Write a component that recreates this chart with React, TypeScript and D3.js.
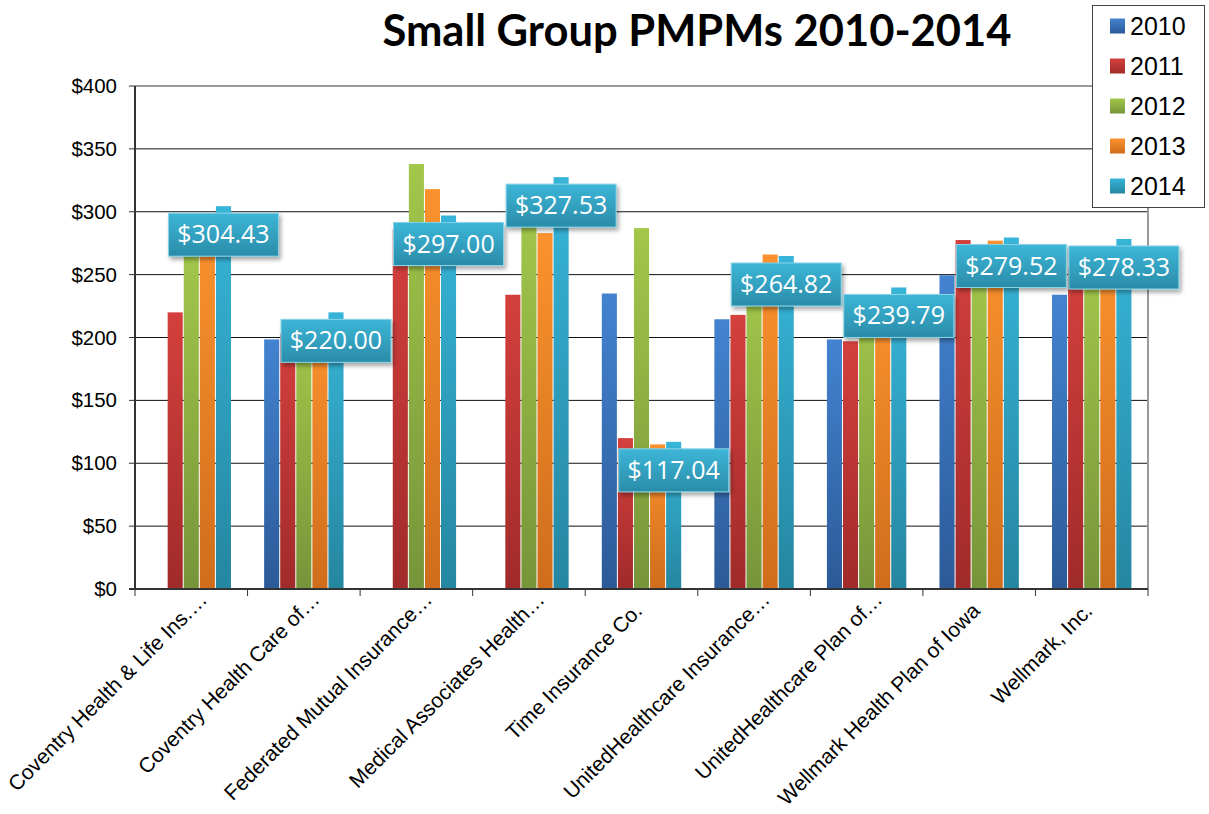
import React, { useRef, useEffect } from 'react';
import * as d3 from 'd3';

const categories = [
  'Coventry Health & Life Ins.…',
  'Coventry Health Care of…',
  'Federated Mutual Insurance…',
  'Medical Associates Health…',
  'Time Insurance Co.',
  'UnitedHealthcare Insurance…',
  'UnitedHealthcare Plan of…',
  'Wellmark Health Plan of Iowa',
  'Wellmark, Inc.',
];
const years = ['2010', '2011', '2012', '2013', '2014'];
const values2010 = [0, 198.5, 0, 0, 235, 214.5, 198.5, 249.5, 234];
const values2011 = [220, 203, 286, 234, 120, 218, 197, 277.5, 255];
const values2012 = [270, 205, 338, 300, 287, 245, 232, 265, 265];
const values2013 = [285, 210, 318, 283, 115, 266, 234, 277, 270];
const values2014 = [304.43, 220.0, 297.0, 327.53, 117.04, 264.82, 239.79, 279.52, 278.33];
const yTicks = [0, 50, 100, 150, 200, 250, 300, 350, 400];

const seriesValues = [values2010, values2011, values2012, values2013, values2014];
// top / bottom of each bar gradient
const barColors = [
  ['#4383D0', '#2C5A98'],
  ['#D4403D', '#A02B2A'],
  ['#A2C74A', '#76953A'],
  ['#FB922E', '#CF6D1C'],
  ['#37B5D8', '#2586A0'],
];

const W = 1209;
const H = 814;
const plot = { left: 135, right: 1148, top: 86, bottom: 589 };

const App = () => {
  const svgRef = useRef<SVGSVGElement>(null);

  useEffect(() => {
    const svg = d3.select(svgRef.current);
    svg.selectAll('*').remove();

    const x0 = d3.scaleBand().domain(categories).range([plot.left, plot.right]);
    const x1 = d3.scaleBand().domain(years).range([0, x0.bandwidth()]).paddingOuter(1);
    const y = d3.scaleLinear().domain([0, 400]).range([plot.bottom, plot.top]);

    const defs = svg.append('defs');
    barColors.forEach((c, i) => {
      const g = defs
        .append('linearGradient')
        .attr('id', `grad${i}`)
        .attr('x1', 0)
        .attr('y1', 0)
        .attr('x2', 0)
        .attr('y2', 1);
      g.append('stop').attr('offset', 0).attr('stop-color', c[0]);
      g.append('stop').attr('offset', 1).attr('stop-color', c[1]);
    });
    const lg = defs
      .append('linearGradient')
      .attr('id', 'labelGrad')
      .attr('x1', 0)
      .attr('y1', 0)
      .attr('x2', 0)
      .attr('y2', 1);
    lg.append('stop').attr('offset', 0).attr('stop-color', '#3DB6D8');
    lg.append('stop').attr('offset', 1).attr('stop-color', '#2A8CA8');
    defs
      .append('filter')
      .attr('id', 'shadow')
      .attr('x', -0.2)
      .attr('y', -0.2)
      .attr('width', 1.4)
      .attr('height', 1.5)
      .append('feDropShadow')
      .attr('dx', 2)
      .attr('dy', 3)
      .attr('stdDeviation', 2)
      .attr('flood-color', '#000')
      .attr('flood-opacity', 0.35);

    // title
    svg
      .append('text')
      .attr('x', 697)
      .attr('y', 46)
      .attr('text-anchor', 'middle')
      .style('font-family', 'Lato, "Open Sans", sans-serif')
      .style('font-weight', 700)
      .style('font-size', '43.5px')
      .text('Small Group PMPMs 2010-2014');

    // gridlines
    svg
      .append('g')
      .selectAll('line')
      .data(yTicks.filter(t => t > 0 && t < 400))
      .join('line')
      .attr('x1', plot.left)
      .attr('x2', plot.right)
      .attr('y1', d => y(d))
      .attr('y2', d => y(d))
      .attr('stroke', '#111')
      .attr('stroke-width', 1);

    // plot frame (top and right)
    svg
      .append('path')
      .attr('d', `M${plot.left},${y(400)}H${plot.right}V${plot.bottom}`)
      .attr('fill', 'none')
      .attr('stroke', '#999')
      .attr('stroke-width', 2);

    // y axis
    const yAxis = svg.append('g');
    yAxis
      .selectAll('line')
      .data(yTicks)
      .join('line')
      .attr('x1', plot.left - 6)
      .attr('x2', plot.left)
      .attr('y1', d => y(d))
      .attr('y2', d => y(d))
      .attr('stroke', '#333');
    yAxis
      .selectAll('text')
      .data(yTicks)
      .join('text')
      .attr('x', plot.left - 18)
      .attr('y', d => y(d) + 7)
      .attr('text-anchor', 'end')
      .style('font-family', '"Liberation Sans", Arial, sans-serif')
      .style('font-size', '20.5px')
      .text(d => `$${d}`);

    // bars
    const groups = svg
      .append('g')
      .selectAll('g')
      .data(categories)
      .join('g')
      .attr('transform', d => `translate(${x0(d)},0)`);
    groups
      .selectAll('rect')
      .data((d, ci) => years.map((yr, si) => ({ yr, si, v: seriesValues[si][ci] })))
      .join('rect')
      .attr('x', d => x1(d.yr)! + 0.5)
      .attr('y', d => y(d.v))
      .attr('width', x1.bandwidth() - 1)
      .attr('height', d => y(0) - y(d.v))
      .attr('fill', d => `url(#grad${d.si})`);

    // axes lines
    svg
      .append('line')
      .attr('x1', plot.left)
      .attr('x2', plot.left)
      .attr('y1', plot.top)
      .attr('y2', plot.bottom)
      .attr('stroke', '#333')
      .attr('stroke-width', 2);
    svg
      .append('line')
      .attr('x1', plot.left - 6)
      .attr('x2', plot.right)
      .attr('y1', plot.bottom)
      .attr('y2', plot.bottom)
      .attr('stroke', '#333')
      .attr('stroke-width', 2);
    svg
      .append('g')
      .selectAll('line')
      .data(d3.range(categories.length + 1))
      .join('line')
      .attr('x1', i => plot.left + i * x0.step())
      .attr('x2', i => plot.left + i * x0.step())
      .attr('y1', plot.bottom)
      .attr('y2', plot.bottom + 7)
      .attr('stroke', '#333');

    // category labels
    svg
      .append('g')
      .selectAll('text')
      .data(categories)
      .join('text')
      .attr('transform', d => {
        const cx = x0(d)! + x0.bandwidth() / 2;
        const cut = d.endsWith('…');
        return `translate(${cx + (cut ? 17 : 2)},${cut ? 601 : 612}) rotate(-45)`;
      })
      .attr('text-anchor', 'end')
      .style('font-family', '"Liberation Sans", Arial, sans-serif')
      .style('font-size', '21px')
      .text(d => d);

    // data labels for 2014
    const labels = svg
      .append('g')
      .selectAll('g')
      .data(categories.map((c, i) => ({ c, v: values2014[i] })))
      .join('g')
      .attr('transform', d => `translate(${x0(d.c)! + x1('2014')! + x1.bandwidth() / 2},${y(d.v) + 7})`);
    labels
      .append('rect')
      .attr('x', -55)
      .attr('y', 0)
      .attr('width', 110)
      .attr('height', 43)
      .attr('fill', 'url(#labelGrad)')
      .attr('stroke', '#8AD3E6')
      .attr('stroke-width', 1)
      .attr('filter', 'url(#shadow)');
    labels
      .append('text')
      .attr('x', 0)
      .attr('y', 30)
      .attr('text-anchor', 'middle')
      .attr('fill', '#fff')
      .style('font-family', '"Open Sans", sans-serif')
      .style('font-size', '25px')
      .text(d => `$${d.v.toFixed(2)}`);

    // legend
    const legend = svg.append('g');
    legend
      .append('rect')
      .attr('x', 1092.5)
      .attr('y', 5.5)
      .attr('width', 112)
      .attr('height', 202)
      .attr('fill', '#fff')
      .attr('stroke', '#444');
    const items = legend
      .selectAll('g')
      .data(years)
      .join('g')
      .attr('transform', (d, i) => `translate(1110,${26 + i * 40})`);
    items
      .append('rect')
      .attr('x', 0)
      .attr('y', -7.5)
      .attr('width', 15)
      .attr('height', 15)
      .attr('fill', (d, i) => `url(#grad${i})`);
    items
      .append('text')
      .attr('x', 20)
      .attr('y', 9)
      .style('font-family', '"Liberation Sans", Arial, sans-serif')
      .style('font-size', '25px')
      .text(d => d);
  }, []);

  return (
    <div style={{ position: 'absolute', left: 0, top: 0 }}>
      <svg ref={svgRef} width={W} height={H} style={{ display: 'block', background: '#fff' }} />
    </div>
  );
};

export default App;
